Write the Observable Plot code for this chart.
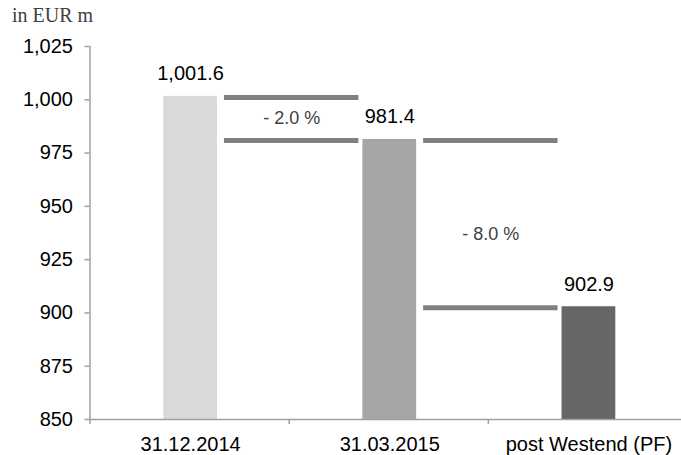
<!DOCTYPE html>
<html><head><meta charset="utf-8">
<script src="https://cdn.jsdelivr.net/npm/d3@7"></script>
<script src="https://cdn.jsdelivr.net/npm/@observablehq/plot@0.6"></script>
<style>
body{margin:0;background:#fff;}
#title{height:28px;line-height:30px;font-family:"Liberation Serif","Times New Roman",serif;font-size:20px;color:#404040;padding-left:12px;}
#chart svg{display:block;}
</style></head><body>
<div id="title">in EUR m</div>
<div id="chart"></div>
<script>
const categories = ["31.12.2014", "31.03.2015", "post Westend (PF)"];
const values = [1001.6, 981.4, 902.9];
const valueLabels = ["1,001.6", "981.4", "902.9"];
const changeLabels = ["- 2.0 %", "- 8.0 %"];
const yTicks = [850, 875, 900, 925, 950, 975, 1000, 1025];
const barColors = ["#d9d9d9", "#a6a6a6", "#666666"];

const offset = 0.505, half = 0.135;
const bars = categories.map((c, i) => ({category: c, i, value: values[i], label: valueLabels[i], color: barColors[i]}));
const connectors = [];
const changes = [];
changeLabels.forEach((lab, k) => {
  const x1 = k + offset + half + 0.035, x2 = k + 1 + offset - half - 0.02;
  connectors.push({x1, x2, y: values[k]}, {x1, x2, y: values[k + 1]});
  changes.push({label: lab, k, x: (x1 + x2) / 2, y: (values[k] + values[k + 1]) / 2});
});

const chart = Plot.plot({
  width: 681, height: 427,
  marginLeft: 89.5, marginRight: 0, marginTop: 18, marginBottom: 36,
  style: {fontFamily: '"Liberation Sans", Arial, sans-serif', background: "#fff"},
  x: {domain: [0, 3], range: [89.5, 687]},
  y: {domain: [850, 1025], range: [391, 18]},
  color: {type: "identity"},
  marks: [
    Plot.rectY(bars, {x1: d => d.i + offset - half, x2: d => d.i + offset + half, y1: 850, y2: "value", fill: d => d.color}),
    Plot.ruleY(connectors, {x1: "x1", x2: "x2", y: "y", stroke: "#808080", strokeWidth: 5, dy: 1}),
    Plot.ruleY([850], {stroke: "#a0a0a0", strokeWidth: 1.5}),
    Plot.ruleX([0], {y1: 850, y2: 1025, stroke: "#a0a0a0", strokeWidth: 1.5}),
    Plot.axisY(yTicks, {tickSize: 5, tickPadding: 12, fontSize: 20, tickFormat: d3.format(","), stroke: "#a0a0a0", strokeWidth: 1.5, fill: "#000", label: null}),
    Plot.axisX([0, 1, 2], {tickSize: 5, tickFormat: () => "", stroke: "#a0a0a0", strokeWidth: 1.5, label: null}),
    Plot.text(bars, {x: d => d.i + offset, y: 850, text: "category", dy: 25, fontSize: 20, fill: "#000", lineAnchor: "middle"}),
    Plot.text(bars, {x: d => d.i + offset, y: "value", text: "label", dy: -22.5, fontSize: 20, fill: "#000", lineAnchor: "middle"}),
    Plot.text(changes.filter(d => d.k === 0), {x: "x", y: "y", text: "label", fontSize: 18, fill: "#404040", lineAnchor: "middle"}),
    Plot.text(changes.filter(d => d.k === 1), {x: "x", y: "y", text: "label", dy: 11, fontSize: 18, fill: "#404040", lineAnchor: "middle"})
  ]
});
document.getElementById("chart").appendChild(chart);
</script>
</body></html>
